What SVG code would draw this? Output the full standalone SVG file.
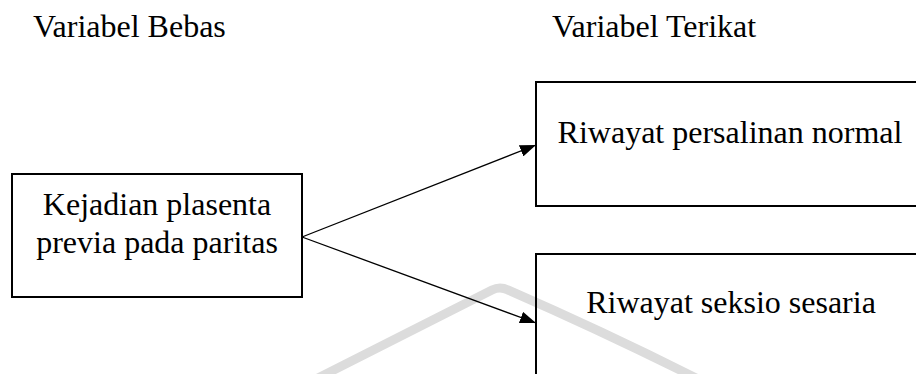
<svg xmlns="http://www.w3.org/2000/svg" width="916" height="374" viewBox="0 0 916 374">
<style>
.t{font-family:"Liberation Serif","Times New Roman",serif;font-size:32px;fill:#000}
.box{fill:none;stroke:#000;stroke-width:2}
.conn{stroke:#000;stroke-width:1.3;fill:none}
.wm{fill:none;stroke:#dcdcdc;stroke-width:9;stroke-linejoin:round}
</style>
<defs>
<marker id="arr" viewBox="0 0 16 12" refX="16" refY="6" markerWidth="16" markerHeight="12" markerUnits="userSpaceOnUse" orient="auto">
<path d="M0,0 L16,6 L0,12 Z" fill="#000"/>
</marker>
</defs>
<rect width="916" height="374" fill="#fff"/>
<path class="wm" d="M318,378 Q420,326 492,290 Q500,286 508,290 Q600,330 696,378"/>
<text class="t" x="33" y="37">Variabel Bebas</text>
<text class="t" x="552" y="37">Variabel Terikat</text>
<g id="connectors">
<line class="conn" x1="302" y1="237" x2="536" y2="145" marker-end="url(#arr)"/>
<line class="conn" x1="302" y1="237" x2="536" y2="323" marker-end="url(#arr)"/>
</g>
<g id="node-bebas">
<rect class="box" x="12" y="174" width="290" height="123"/>
<text class="t" x="157" y="215" text-anchor="middle">Kejadian plasenta</text>
<text class="t" x="157" y="253" text-anchor="middle">previa pada paritas</text>
</g>
<g id="node-normal">
<rect class="box" x="536" y="82" width="390" height="124"/>
<text class="t" x="730" y="143" text-anchor="middle">Riwayat persalinan normal</text>
</g>
<g id="node-sesaria">
<rect class="box" x="536" y="254" width="390" height="140"/>
<text class="t" x="731" y="313" text-anchor="middle">Riwayat seksio sesaria</text>
</g>
</svg>
